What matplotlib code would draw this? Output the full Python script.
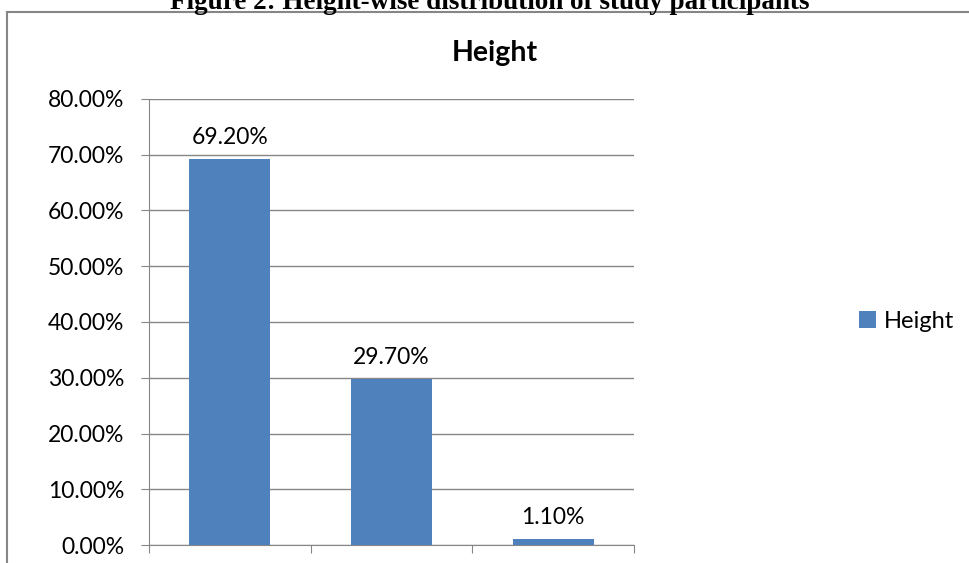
import matplotlib
matplotlib.use('Agg')
import matplotlib.pyplot as plt
from matplotlib.lines import Line2D
from matplotlib.ticker import FuncFormatter

# Data
categories = ['A', 'B', 'C']
values = [69.2, 29.7, 1.1]
yticks = [0, 10, 20, 30, 40, 50, 60, 70, 80]
series_name = 'Height'

plt.rcParams['font.family'] = ['Lato', 'DejaVu Sans']

fig = plt.figure(figsize=(9.69, 5.63), dpi=100)
ax = fig.add_axes([149/969, 1-545/563, (634-149)/969, (545-99)/563])

x = range(len(categories))
bars = ax.bar(x, values, width=0.5, color='#4F81BD', label=series_name, zorder=3)
for xi, v in zip(x, values):
    ax.annotate('%.2f%%' % v, (xi, v), xytext=(0, 8), textcoords='offset points',
                ha='center', va='bottom', fontsize=16.5)

ax.set_xlim(-0.5, len(categories) - 0.5)
ax.set_ylim(0, 80)
ax.set_yticks(yticks)
ax.yaxis.set_major_formatter(FuncFormatter(lambda v, p: '%.2f%%' % v))
ax.set_xticks([i - 0.5 for i in range(len(categories) + 1)])
ax.set_xticklabels([])
ax.tick_params(axis='y', labelsize=16.5, length=6, color='#868686', pad=12)
ax.tick_params(axis='x', length=6, color='#868686')
ax.grid(axis='y', color='#868686', linewidth=1, zorder=0)
for s in ['top', 'right']:
    ax.spines[s].set_visible(False)
for s in ['left', 'bottom']:
    ax.spines[s].set_color('#868686')

# chart title, centred on the whole chart area
fig.text(495/969, 1-53/563, 'Height', ha='center', va='center',
         fontsize=20.5, fontweight='bold')

fig.legend(loc='center left', bbox_to_anchor=(838/969, 1-321/563), frameon=False,
           fontsize=17, handlelength=0.7, handleheight=0.7, handletextpad=0.35)

# outer chart border
fig.add_artist(Line2D([7/969, 7/969], [0, 1-12/563], transform=fig.transFigure,
                      color='#868686', linewidth=1.5))
fig.add_artist(Line2D([7/969, 1], [1-12/563, 1-12/563], transform=fig.transFigure,
                      color='#868686', linewidth=1.5))

fig.text(490/969, 1-9/563, 'Figure 2: Height-wise distribution of study participants',
         ha='center', va='baseline', fontsize=19.5, fontweight='bold',
         family='Liberation Serif')

fig.savefig('out.png', dpi=100)
